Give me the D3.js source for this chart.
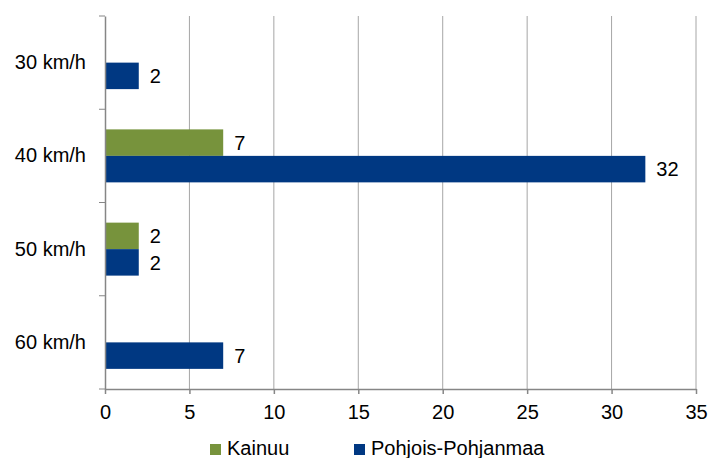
<!DOCTYPE html>
<html>
<head>
<meta charset="utf-8">
<script src="https://cdn.jsdelivr.net/npm/d3@7"></script>
<style>
  body { margin: 0; background: #fff; }
  text { font-family: "Liberation Sans", Arial, sans-serif; fill: #000; }
</style>
</head>
<body>
<div id="chart"></div>
<script>
const categories = ['30 km/h', '40 km/h', '50 km/h', '60 km/h'];
const seriesNames = ['Kainuu', 'Pohjois-Pohjanmaa'];
const kainuuValues = [0, 7, 2, 0];
const pohjoisValues = [2, 32, 2, 7];
const xTicks = [0, 5, 10, 15, 20, 25, 30, 35];

const seriesColors = {
  'Kainuu': '#77933c',
  'Pohjois-Pohjanmaa': '#003882'
};

const rows = categories.map((c, i) => ({
  category: c,
  values: [
    { name: seriesNames[0], value: kainuuValues[i] },
    { name: seriesNames[1], value: pohjoisValues[i] }
  ]
}));

const width = 710, height = 458;
const margin = { top: 16, right: 14, bottom: 69, left: 105 };
const innerW = width - margin.left - margin.right;
const innerH = height - margin.top - margin.bottom;

const svg = d3.select('#chart')
  .append('svg')
  .attr('width', width)
  .attr('height', height);

const g = svg.append('g')
  .attr('transform', `translate(${margin.left},${margin.top})`);

const x = d3.scaleLinear().domain([0, 35]).range([0, innerW]);
const y = d3.scaleBand().domain(categories).range([0, innerH]);
const ySub = d3.scaleBand().domain(seriesNames)
  .range([0, y.bandwidth()])
  .paddingInner(0)
  .paddingOuter(0.76);

// vertical gridlines
g.selectAll('.grid')
  .data(xTicks.filter(t => t > 0))
  .enter()
  .append('line')
  .attr('x1', d => x(d)).attr('x2', d => x(d))
  .attr('y1', 0).attr('y2', innerH)
  .attr('stroke', '#a6a6a6')
  .attr('stroke-width', 1);

// bars
const groups = g.selectAll('.cat')
  .data(rows)
  .enter()
  .append('g')
  .attr('transform', d => `translate(0,${y(d.category)})`);

groups.selectAll('rect')
  .data(d => d.values.filter(v => v.value > 0))
  .enter()
  .append('rect')
  .attr('x', 0)
  .attr('y', d => ySub(d.name))
  .attr('width', d => x(d.value))
  .attr('height', ySub.bandwidth())
  .attr('fill', d => seriesColors[d.name]);

groups.selectAll('.lbl')
  .data(d => d.values.filter(v => v.value > 0))
  .enter()
  .append('text')
  .attr('x', d => x(d.value) + 11)
  .attr('y', d => ySub(d.name) + ySub.bandwidth() / 2)
  .attr('dy', '0.36em')
  .style('font-size', '20px')
  .text(d => d.value);

// x axis
const xAxis = g.append('g')
  .attr('transform', `translate(0,${innerH})`)
  .call(d3.axisBottom(x).tickValues(xTicks).tickSize(5).tickSizeOuter(0).tickPadding(11));
xAxis.selectAll('text').style('font-size', '20px').style('font-family', '"Liberation Sans", Arial, sans-serif');

// y axis
const yAxis = g.append('g')
  .call(d3.axisLeft(y).tickSize(0).tickPadding(19));
yAxis.selectAll('text').style('font-size', '20px').style('font-family', '"Liberation Sans", Arial, sans-serif');

// category separators on y axis
yAxis.selectAll('.sep')
  .data(d3.range(categories.length + 1))
  .enter()
  .append('line')
  .attr('x1', -6).attr('x2', 0)
  .attr('y1', i => i * y.step()).attr('y2', i => i * y.step())
  .attr('stroke', '#868686');

svg.selectAll('.domain, .tick line')
  .attr('stroke', '#868686')
  .attr('stroke-width', 1.5);

// legend
const legendItems = [
  { name: seriesNames[0], x: 210, tx: 227 },
  { name: seriesNames[1], x: 354, tx: 371 }
];
const legend = svg.append('g');
legend.selectAll('rect')
  .data(legendItems)
  .enter()
  .append('rect')
  .attr('x', d => d.x).attr('y', 444)
  .attr('width', 11).attr('height', 11)
  .attr('fill', d => seriesColors[d.name]);
legend.selectAll('text')
  .data(legendItems)
  .enter()
  .append('text')
  .attr('x', d => d.tx).attr('y', 455)
  .style('font-size', '20px')
  .text(d => d.name);
</script>
</body>
</html>
